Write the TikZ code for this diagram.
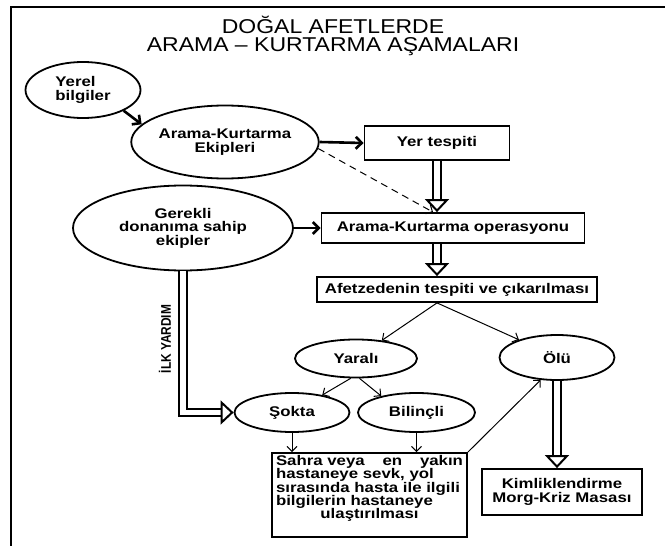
\documentclass[tikz,border=0pt]{standalone}
\usepackage{fontspec}
\setmainfont{Liberation Sans}
\newfontface\titlefont[FakeStretch=1.15]{Liberation Sans}
\newfontface\boxfont[FakeStretch=1.2]{Liberation Sans Bold}
\newfontface\sidefont[FakeStretch=0.85]{Liberation Sans Bold}
\usetikzlibrary{arrows.meta,shapes.geometric}

\newcommand\fullline[1]{\makebox[\hsize][s]{#1}}

\tikzset{
  oval/.style 2 args={ellipse, draw, line width=1.8pt, inner sep=0pt,
    minimum width=#1, minimum height=#2, align=center,
    font=\fontsize{14}{14.5}\boxfont},
  stepbox/.style 2 args={rectangle, draw, line width=1.8pt, inner sep=0pt,
    minimum width=#1, minimum height=#2, align=center,
    font=\fontsize{14}{14.5}\boxfont},
  thickarrow/.style={line width=2.6pt, -{Straight Barb[length=6pt,width=12pt]}},
  thinarrow/.style={line width=1pt, -{Straight Barb[length=5pt,width=10pt]}},
  hollowarrow/.style={double, double distance=5.5pt, line width=2pt,
    -{Triangle[open,length=13pt,width=24pt,line width=2pt]}},
}

\begin{document}
\begin{tikzpicture}[x=1pt,y=-1pt]
\path[use as bounding box] (0,0) rectangle (665,546);
% frame
\draw[line width=2.2pt] (11,546) -- (11,7) -- (665,7);
% title
\node[font=\fontsize{20}{18.5}\titlefont, align=center] (title) at (333,36)
  {DOĞAL AFETLERDE\\ARAMA – KURTARMA AŞAMALARI};

% ovals and boxes
\node[oval={115pt}{56pt}, align=left] (yerel) at (83,90) {Yerel\\bilgiler};
\node[oval={175pt}{73pt}] (ekip) at (225,142) {Arama-Kurtarma\\Ekipleri};
\node[oval={220pt}{85pt}, font=\fontsize{14}{13.4}\boxfont] (gerekli) at (183,228)
  {Gerekli\\donanıma sahip\\ekipler};
\node[stepbox={145pt}{34pt}] (yer) at (437,143) {Yer tespiti};
\node[stepbox={263pt}{30pt}] (oper) at (453,228) {Arama-Kurtarma operasyonu};
\node[stepbox={280pt}{25pt}] (afet) at (457,289.5) {Afetzedenin tespiti ve çıkarılması};
\node[oval={122pt}{38pt}] (yarali) at (356,358.5) {Yaralı};
\node[oval={115pt}{45pt}] (olu) at (557,357.5) {Ölü};
\node[oval={115pt}{39pt}] (sokta) at (292,412.5) {Şokta};
\node[oval={117pt}{39pt}] (bilincli) at (416.5,412.5) {Bilinçli};
\node[stepbox={195pt}{84pt}, text width=187pt, font=\fontsize{14}{13.4}\boxfont]
  (sahra) at (369.5,495)
  {\fullline{Sahra veya\hfill en\hfill yakın}\\
   \fullline{hastaneye sevk, yol}\\
   \fullline{sırasında hasta ile ilgili}\\
   \fullline{bilgilerin hastaneye}\\
   ulaştırılması\rule[-16pt]{0pt}{1pt}};
\node[stepbox={160pt}{46pt}, font=\fontsize{14}{13.4}\boxfont] (kimlik) at (562,492)
  {Kimliklendirme\\Morg-Kriz Masası};
\node[rotate=90, font=\fontsize{14}{16}\sidefont] (yardim) at (165,339) {İLK YARDIM};

% connectors
\draw[thickarrow] (yerel.-27) -- (ekip.168);
\draw[thickarrow] (ekip.east) -- (yer.west);
\draw[thinarrow, dash pattern=on 7pt off 5pt] (ekip.-4) -- ([xshift=-4pt]yer.south |- oper.north);
\draw[thickarrow] (gerekli.east) -- (oper.west);
\draw[hollowarrow] (yer.south) -- (yer.south |- oper.north);
\draw[hollowarrow] (yer.south |- oper.south) -- (yer.south |- afet.north);
\draw[thinarrow] (yer.south |- afet.south) -- (yarali.35);
\draw[thinarrow] (yer.south |- afet.south) -- (olu.155);
\draw[thinarrow] (yarali.-105) -- (sokta.30);
\draw[thinarrow] (yarali.-80) -- (bilincli.155);
\draw[thinarrow] (sokta.south) -- (sokta.south |- sahra.north);
\draw[thinarrow] (bilincli.south) -- (bilincli.south |- sahra.north);
\draw[thinarrow] (sahra.north east) -- (olu.-126);
\draw[hollowarrow] (olu.south) -- (olu.south |- kimlik.north);
\draw[hollowarrow] (gerekli.south) -- (gerekli.south |- sokta.west) -- (sokta.west);
\end{tikzpicture}
\end{document}
